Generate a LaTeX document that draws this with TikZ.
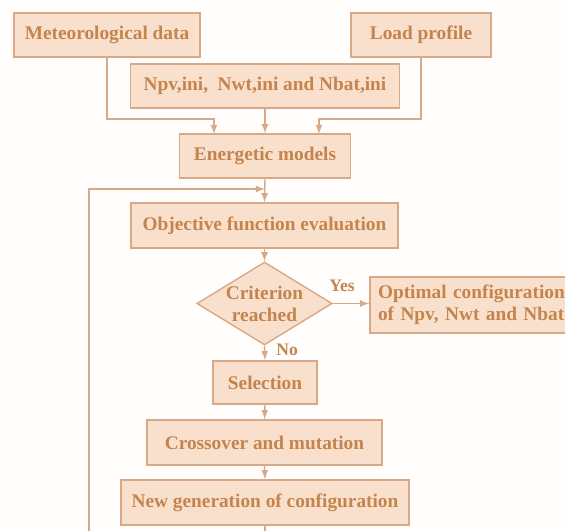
\documentclass[tikz,border=0pt]{standalone}
\usepackage{fontspec}
\setmainfont{Liberation Serif}
\usetikzlibrary{shapes.geometric}
\definecolor{peach}{HTML}{F9E0CD}
\definecolor{rim}{HTML}{D9A887}
\definecolor{ink}{HTML}{C4844C}
\tikzset{
  box/.style={draw=rim,fill=peach,thick,text=ink,font=\fontsize{11}{12.5}\selectfont\bfseries,
    inner sep=0pt,align=center},
  link/.style={draw=rim,thick,-latex},
  lbl/.style={text=ink,font=\fontsize{10}{11}\selectfont\bfseries}
}
\begin{document}
\begin{tikzpicture}[x=0.02cm,y=-0.02cm]
\useasboundingbox (0,0) rectangle (565,531);
\fill[white!96!peach] (0,0) rectangle (565,531);
\clip (0,0) rectangle (565,531);
\node[box,minimum width=186*0.02cm,minimum height=44*0.02cm] (met) at (107,35) {Meteorological data};
\node[box,minimum width=140*0.02cm,minimum height=44*0.02cm] (load) at (421,35) {Load profile};
\node[box,minimum width=269*0.02cm,minimum height=44*0.02cm] (npv) at (265,86) {Npv,ini,\ \ Nwt,ini and Nbat,ini};
\node[box,minimum width=171*0.02cm,minimum height=44*0.02cm] (energ) at (265,156) {Energetic models};
\node[box,minimum width=267*0.02cm,minimum height=45*0.02cm] (obj) at (264.5,225.5) {Objective function evaluation};
\node[box,diamond,aspect=1.63,minimum width=129*0.02cm,minimum height=79*0.02cm] (crit) at (264.5,303.5) {Criterion\\reached};
\node[box,minimum width=220*0.02cm,minimum height=56*0.02cm,text width=204*0.02cm,align=left] (opt) at (480,305) {Optimal configuration\\of Npv, Nwt and Nbat};
\node[box,minimum width=104*0.02cm,minimum height=43*0.02cm] (sel) at (265,382.5) {Selection};
\node[box,minimum width=235*0.02cm,minimum height=45*0.02cm] (cross) at (264.5,442.5) {Crossover and mutation};
\node[box,minimum width=288*0.02cm,minimum height=45*0.02cm] (newgen) at (265,502.5) {New generation of configuration};
\coordinate (join) at (265,189);
\coordinate (low) at (265,560);
% inputs
\draw[link] (met.south) |- (214,119) -- (214,134);
\draw[link] (load.south) |- (319,119) -- (319,134);
\draw[link] (npv.south) -- (energ.north);
% main chain
\draw[link] (energ.south) -- (obj.north);
\draw[link] (obj.south) -- (crit.north);
\draw[link] (crit.east) -- node[lbl,above,pos=0.25,yshift=3pt] {Yes} (crit.east -| opt.west);
\draw[link] (crit.south) -- node[lbl,right,pos=0.3,xshift=3pt] {No} (sel.north);
\draw[link] (sel.south) -- (cross.north);
\draw[link] (cross.south) -- (newgen.north);
% loop back
\draw[link] (newgen.south) -- (low) -| (89,189) -- (join);
\end{tikzpicture}
\end{document}
